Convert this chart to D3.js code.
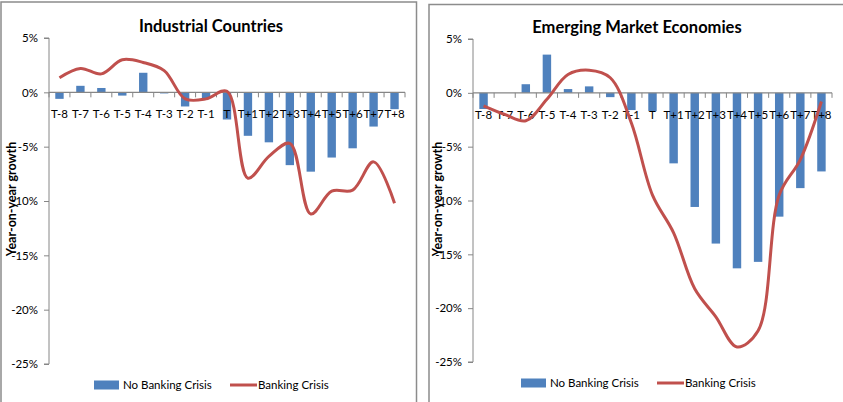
<!DOCTYPE html>
<html>
<head>
<meta charset="utf-8">
<script src="https://cdn.jsdelivr.net/npm/d3@7"></script>
<style>
  body { margin: 0; background: #fff; }
  text { font-family: Lato, "Liberation Sans", sans-serif; fill: #000; }
</style>
</head>
<body>
<script>
const categories = ['T-8', 'T-7', 'T-6', 'T-5', 'T-4', 'T-3', 'T-2', 'T-1', 'T',
  'T+1', 'T+2', 'T+3', 'T+4', 'T+5', 'T+6', 'T+7', 'T+8'];

// year-on-year growth, %
const industrialNoCrisis = [-0.6, 0.6, 0.4, -0.3, 1.8, -0.1, -1.3, -0.55, -2.5,
  -4.0, -4.6, -6.7, -7.3, -6.0, -5.15, -3.15, -1.55];
const industrialCrisis = [1.35, 2.2, 1.7, 3.0, 2.75, 2.0, -0.6, -0.6, 0.1,
  -7.9, -5.9, -4.7, -11.2, -9.1, -9.0, -6.4, -10.2];

const emergingNoCrisis = [-1.5, 0, 0.8, 3.55, 0.35, 0.6, -0.4, -1.6, -1.7,
  -6.55, -10.6, -14.0, -16.3, -15.7, -11.5, -8.85, -7.3];
const emergingCrisis = [-1.2, -2.0, -2.6, -0.6, 1.7, 2.1, 1.4, -2.8, -9.5,
  -13.0, -18.2, -20.8, -23.6, -22.1, -9.5, -6.2, -0.8];

const yTicks = [5, 0, -5, -10, -15, -20, -25];
const legendLabels = ['No Banking Crisis', 'Banking Crisis'];

const barColor = '#4F81BD';
const lineColor = '#C0504D';
const axisColor = '#868686';

const svg = d3.select('body')
  .append('svg')
  .attr('width', 843)
  .attr('height', 402);

function drawPanel(opts) {
  const g = svg.append('g');

  // panel frame
  g.append('rect')
    .attr('x', opts.frame[0])
    .attr('y', opts.frame[1])
    .attr('width', opts.frame[2])
    .attr('height', opts.frame[3])
    .attr('fill', 'none')
    .attr('stroke', '#8c8c8c')
    .attr('stroke-width', 1.5);

  const x = d3.scaleBand()
    .domain(categories)
    .range([opts.left, opts.right])
    .paddingInner(0.6)
    .paddingOuter(0.3);

  const y = d3.scaleLinear()
    .domain([5, -25])
    .range([opts.top, opts.bottom]);

  // title
  g.append('text')
    .attr('x', opts.titleX)
    .attr('y', opts.titleY)
    .style('text-anchor', 'middle')
    .style('font-size', '16.5px')
    .style('font-weight', 'bold')
    .text(opts.title);

  // y axis
  const yAxis = d3.axisLeft(y)
    .tickValues(yTicks)
    .tickFormat(d => d + '%')
    .tickSize(5)
    .tickPadding(6);

  const ya = g.append('g')
    .attr('transform', `translate(${opts.left}, 0)`)
    .call(yAxis);
  ya.select('.domain').attr('stroke', axisColor).attr('d', `M-5,${opts.top}H0V${opts.bottom}H-5`);
  ya.selectAll('.tick line').attr('stroke', axisColor);
  ya.selectAll('.tick text')
    .style('font-size', '11.5px')
    .style('font-family', 'Lato, "Liberation Sans", sans-serif')
    .attr('fill', '#222');

  // bars
  g.selectAll('.bar')
    .data(opts.bars)
    .enter()
    .append('rect')
    .attr('class', 'bar')
    .attr('x', (d, i) => x(categories[i]))
    .attr('width', x.bandwidth())
    .attr('y', d => y(Math.max(0, d)))
    .attr('height', d => Math.abs(y(d) - y(0)))
    .attr('fill', barColor);

  // x axis at zero
  const y0 = y(0);
  g.append('line')
    .attr('x1', opts.left).attr('x2', opts.right)
    .attr('y1', y0).attr('y2', y0)
    .attr('stroke', axisColor)
    .attr('stroke-width', 1.2);

  g.selectAll('.xtick')
    .data(d3.range(categories.length + 1))
    .enter()
    .append('line')
    .attr('x1', i => opts.left + i * x.step())
    .attr('x2', i => opts.left + i * x.step())
    .attr('y1', y0)
    .attr('y2', y0 + 5)
    .attr('stroke', axisColor);

  g.selectAll('.xlabel')
    .data(categories)
    .enter()
    .append('text')
    .attr('x', d => x(d) + x.bandwidth() / 2)
    .attr('y', y0 + 26)
    .style('text-anchor', 'middle')
    .style('font-size', '11.5px')
    .attr('fill', '#222')
    .text(d => d);

  // line
  const line = d3.line()
    .x((d, i) => x(categories[i]) + x.bandwidth() / 2)
    .y(d => y(d))
    .curve(d3.curveCatmullRom.alpha(0.5));

  g.append('path')
    .datum(opts.line)
    .attr('d', line)
    .attr('fill', 'none')
    .attr('stroke', lineColor)
    .attr('stroke-width', 3);

  // y axis title
  g.append('text')
    .attr('transform', `translate(${opts.yTitleX}, 199) rotate(-90)`)
    .style('text-anchor', 'middle')
    .style('font-size', '12.5px')
    .style('font-weight', 'bold')
    .text('Year-on-year growth');

  // legend
  const ly = opts.legendY;
  g.append('rect')
    .attr('x', opts.legendX)
    .attr('y', ly - 4.5)
    .attr('width', 25)
    .attr('height', 9)
    .attr('fill', barColor);
  g.append('text')
    .attr('x', opts.legendX + 29)
    .attr('y', ly + 4)
    .style('font-size', '11.5px')
    .attr('fill', '#222')
    .text(legendLabels[0]);
  g.append('line')
    .attr('x1', opts.legendX + 136).attr('x2', opts.legendX + 163)
    .attr('y1', ly).attr('y2', ly)
    .attr('stroke', lineColor)
    .attr('stroke-width', 3);
  g.append('text')
    .attr('x', opts.legendX + 164)
    .attr('y', ly + 4)
    .style('font-size', '11.5px')
    .attr('fill', '#222')
    .text(legendLabels[1]);
}

drawPanel({
  title: 'Industrial Countries',
  frame: [1, 2, 415.5, 410],
  left: 49, right: 405, top: 38, bottom: 364,
  titleX: 211, titleY: 32,
  yTitleX: 16,
  bars: industrialNoCrisis,
  line: industrialCrisis,
  legendX: 94, legendY: 385
});

drawPanel({
  title: 'Emerging Market Economies',
  frame: [429, 4.5, 420, 410],
  left: 473, right: 832, top: 39, bottom: 362,
  titleX: 637, titleY: 33,
  yTitleX: 442,
  bars: emergingNoCrisis,
  line: emergingCrisis,
  legendX: 521, legendY: 383
});
</script>
</body>
</html>
